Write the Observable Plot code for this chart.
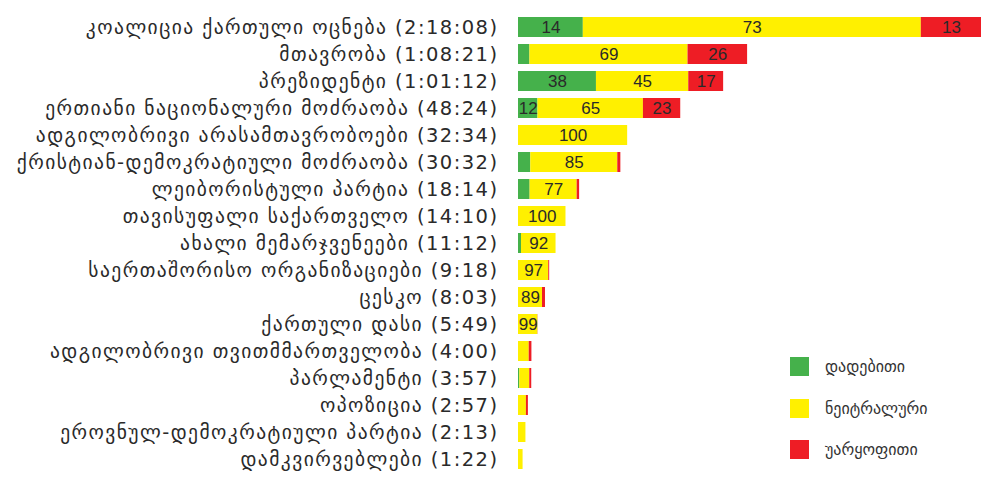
<!DOCTYPE html>
<html>
<head>
<meta charset="utf-8">
<script src="https://cdn.jsdelivr.net/npm/d3@7"></script>
<script src="https://cdn.jsdelivr.net/npm/@observablehq/plot@0.6"></script>
<style>
  html, body { margin: 0; padding: 0; background: #fff; }
  #wrap { position: relative; width: 982px; height: 485px; }
  #legend { position: absolute; left: 790px; top: 346px; font-family: "DejaVu Sans", sans-serif; font-size: 16px; color: #333; }
  #legend .item { display: flex; align-items: center; height: 41.5px; }
  #legend .sw { width: 19px; height: 19px; margin-right: 16px; }
  svg g[aria-label="y-axis tick label"] text { letter-spacing: 1.45px; }
</style>
</head>
<body>
<div id="wrap"><div id="chart"></div><div id="legend"></div></div>
<script>
const categories = [
  "კოალიცია ქართული ოცნება",
  "მთავრობა",
  "პრეზიდენტი",
  "ერთიანი ნაციონალური მოძრაობა",
  "ადგილობრივი არასამთავრობოები",
  "ქრისტიან-დემოკრატიული მოძრაობა",
  "ლეიბორისტული პარტია",
  "თავისუფალი საქართველო",
  "ახალი მემარჯვენეები",
  "საერთაშორისო ორგანიზაციები",
  "ცესკო",
  "ქართული დასი",
  "ადგილობრივი თვითმმართველობა",
  "პარლამენტი",
  "ოპოზიცია",
  "ეროვნულ-დემოკრატიული პარტია",
  "დამკვირვებლები"
];
const times = ["2:18:08","1:08:21","1:01:12","48:24","32:34","30:32","18:14","14:10","11:12","9:18","8:03","5:49","4:00","3:57","2:57","2:13","1:22"];
const positive = [14, 5, 38, 12, 0, 12, 19, 0, 8, 0, 0, 0, 0, 10, 0, 0, 0];
const neutral  = [73, 69, 45, 65, 100, 85, 77, 100, 92, 97, 89, 99, 80, 75, 80, 100, 100];
const negative = [13, 26, 17, 23, 0, 3, 4, 0, 0, 3, 11, 1, 20, 15, 20, 0, 0];
const sentiments = ["დადებითი", "ნეიტრალური", "უარყოფითი"];
const colors = ["#45b14b", "#fff000", "#ee1d25"];

const toMinutes = t => {
  const p = t.split(":").map(Number);
  return p.length === 3 ? p[0]*60 + p[1] + p[2]/60 : p[0] + p[1]/60;
};
const labels = categories.map((c, i) => `${c} (${times[i]})`);
const rows = [];
categories.forEach((c, i) => {
  const total = toMinutes(times[i]);
  let acc = 0;
  [positive[i], neutral[i], negative[i]].forEach((pct, k) => {
    const len = pct * total / 100;
    rows.push({label: labels[i], sentiment: sentiments[k], pct, len, x1: acc, x2: acc + len});
    acc += len;
  });
});
const maxTotal = d3.max(times, toMinutes);

const chart = Plot.plot({
  width: 982,
  height: 485,
  marginLeft: 518,
  marginRight: 1,
  marginTop: 3,
  marginBottom: 1,
  style: {fontFamily: "DejaVu Sans, sans-serif", background: "#fff"},
  x: {domain: [0, maxTotal], axis: null},
  y: {domain: labels, padding: 0.25, label: null, tickSize: 0, tickPadding: 21},
  color: {domain: sentiments, range: colors},
  marks: [
    Plot.barX(rows.filter(d => d.len > 0), {x1: "x1", x2: "x2", y: "label", fill: "sentiment"}),
    Plot.textX(rows.filter(d => d.len >= 4.5), {x: d => (d.x1 + d.x2) / 2, y: "label", text: d => String(d.pct), fill: "#2a2a2a", fontSize: 17, fontFamily: "Liberation Sans, Arial, sans-serif"}),
    Plot.axisY({tickSize: 0, tickPadding: 20, fontSize: 19.5, fill: "#2a2a2a", label: null, ariaLabel: "y-axis"})
  ]
});
document.getElementById("chart").appendChild(chart);

const legend = document.getElementById("legend");
sentiments.forEach((s, k) => {
  const item = document.createElement("div");
  item.className = "item";
  item.innerHTML = `<div class="sw" style="background:${colors[k]}"></div><span>${s}</span>`;
  legend.appendChild(item);
});
</script>
</body>
</html>
